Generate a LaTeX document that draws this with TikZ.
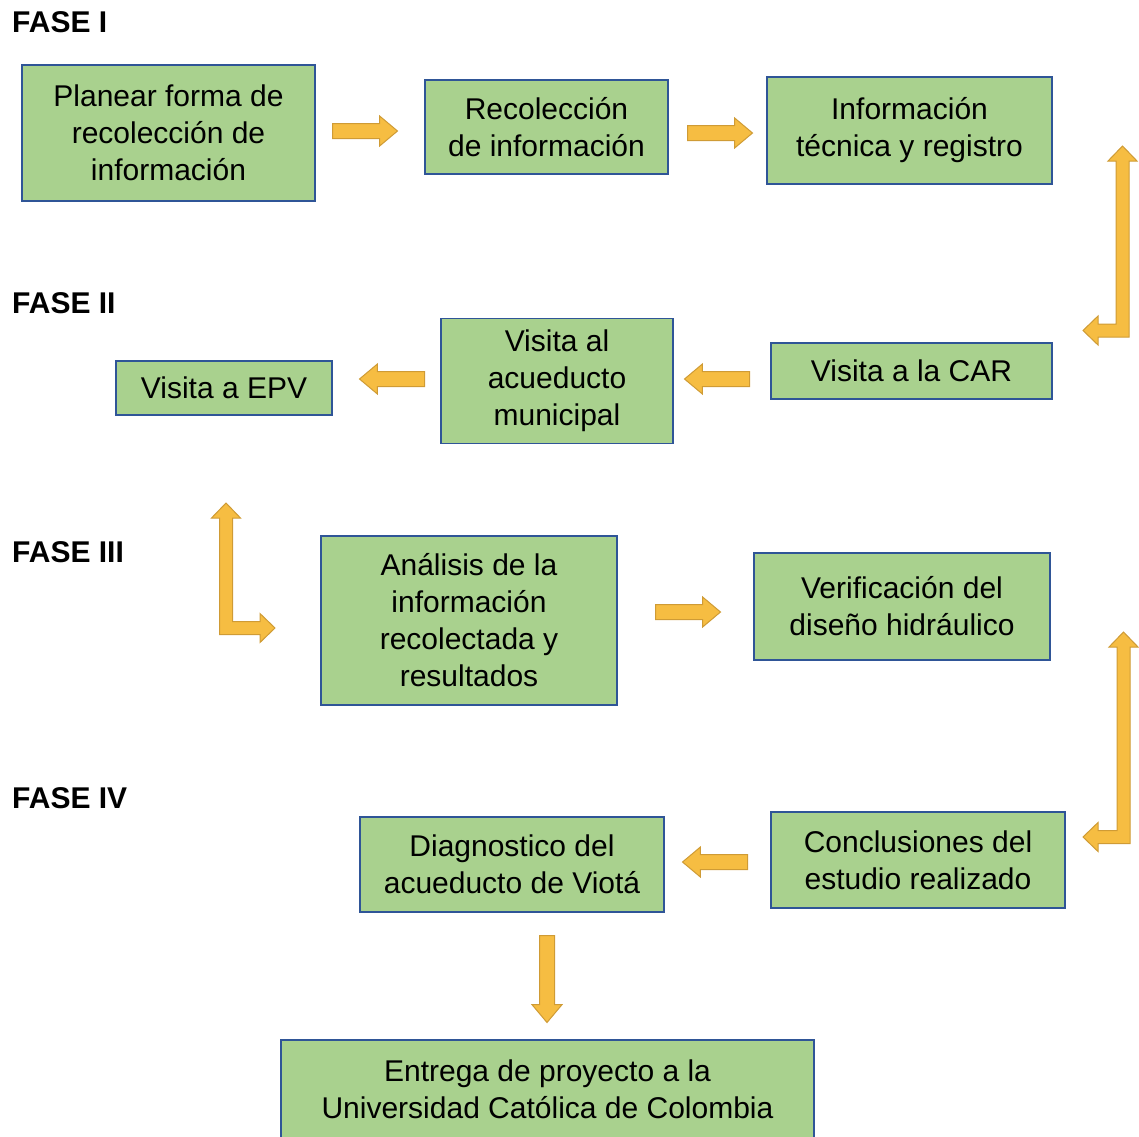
\documentclass[tikz,border=0pt]{standalone}
\usepackage{fontspec}
\setmainfont{Liberation Sans}
\usepackage{tikz}
\usetikzlibrary{shapes.arrows}

\definecolor{boxgreen}{HTML}{A9D18E}
\definecolor{boxblue}{HTML}{2F5597}
\definecolor{arrowfill}{HTML}{F6BD42}
\definecolor{arrowline}{HTML}{CF9B35}

\begin{document}
\begin{tikzpicture}[x=1pt, y=-1pt,
    stepbox/.style={draw=boxblue, line width=1.5pt, fill=boxgreen, align=center,
        inner sep=0pt, font=\fontsize{30}{37}\selectfont},
    fase/.style={anchor=west, inner sep=0pt, font=\fontsize{30}{34}\selectfont\bfseries},
    blockarrow/.style={shape=single arrow, anchor=tail, draw=arrowline, fill=arrowfill, line width=1pt,
        inner sep=7pt, single arrow head extend=7.5pt, single arrow head indent=0pt,
        single arrow tip angle=80, minimum height=65pt},
    bentarrow/.style={draw=arrowline, fill=arrowfill, line width=1pt, line join=miter}]
    \useasboundingbox (0,0) rectangle (1139,1136);

    % fases
    \node[fase] (f1) at (12,22) {FASE I};
    \node[fase] (f2) at (12,303) {FASE II};
    \node[fase] (f3) at (12,552) {FASE III};
    \node[fase] (f4) at (12,798) {FASE IV};

    % cajas
    \node[stepbox, minimum width=293pt, minimum height=136pt] (plan) at (168.5,133) {Planear forma de\\recolección de\\información};
    \node[stepbox, minimum width=243pt, minimum height=94pt] (recol) at (546.5,127) {Recolección\\de información};
    \node[stepbox, minimum width=285pt, minimum height=107pt] (info) at (909.5,130.5) {Información\\técnica y registro};
    \node[stepbox, minimum width=281pt, minimum height=56pt] (car) at (911.5,371) {Visita a la CAR};
    \node[stepbox, minimum width=232pt, minimum height=125pt] (acued) at (557,381) {Visita al\\acueducto\\municipal};
    \node[stepbox, minimum width=216pt, minimum height=54pt] (epv) at (224,388) {Visita a EPV};
    \node[stepbox, minimum width=296pt, minimum height=169pt] (anal) at (469,620.5) {Análisis de la\\información\\recolectada y\\resultados};
    \node[stepbox, minimum width=296pt, minimum height=107pt] (verif) at (902,606.5) {Verificación del\\diseño hidráulico};
    \node[stepbox, minimum width=294pt, minimum height=96pt] (concl) at (918,860) {Conclusiones del\\estudio realizado};
    \node[stepbox, minimum width=304pt, minimum height=95pt] (diag) at (512,864.5) {Diagnostico del\\acueducto de Viotá};
    \node[stepbox, minimum width=533pt, minimum height=98pt] (entrega) at (547.5,1089) {Entrega de proyecto a la\\Universidad Católica de Colombia};

    % flechas rectas
    \node[blockarrow] (a1) at (332,131) {};
    \node[blockarrow] (a2) at (687,133) {};
    \node[blockarrow, shape border rotate=180] (a4) at (750,379) {};
    \node[blockarrow, shape border rotate=180] (a5) at (425,379) {};
    \node[blockarrow] (a7) at (655,612) {};
    \node[blockarrow, shape border rotate=180] (a9) at (748,862) {};
    \node[blockarrow, shape border rotate=270, minimum height=87pt] (a10) at (547,935) {};

    % flechas dobladas
    \draw[bentarrow] (1122.5,146) -- (1137,161) -- (1129,161) -- (1129,337) -- (1098,337) -- (1098,345)
        -- (1083,330.5) -- (1098,316) -- (1098,324) -- (1116,324) -- (1116,161) -- (1108,161) -- cycle;
    \draw[bentarrow] (226,503) -- (240.5,518) -- (232.5,518) -- (232.5,621.5) -- (260,621.5) -- (260,613.5)
        -- (275,628) -- (260,642.5) -- (260,634.5) -- (219.5,634.5) -- (219.5,518) -- (211.5,518) -- cycle;
    \draw[bentarrow] (1123.5,632) -- (1138,647) -- (1130,647) -- (1130,843.5) -- (1098,843.5) -- (1098,851.5)
        -- (1083,837) -- (1098,822.5) -- (1098,830.5) -- (1117,830.5) -- (1117,647) -- (1109,647) -- cycle;
\end{tikzpicture}
\end{document}
